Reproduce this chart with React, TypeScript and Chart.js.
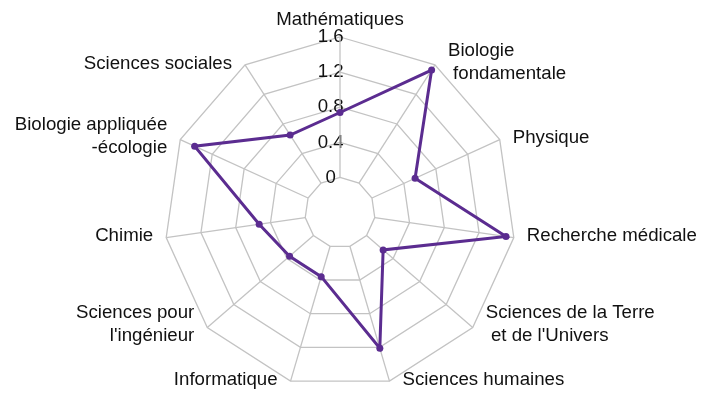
import React, { useEffect, useRef } from 'react';
import { Chart, registerables } from 'chart.js';

Chart.register(...registerables);

const categories: (string | string[])[] = [
  'Mathématiques',
  ['Biologie', ' fondamentale'],
  'Physique',
  'Recherche médicale',
  ['Sciences de la Terre', " et de l'Univers"],
  'Sciences humaines',
  'Informatique',
  ['Sciences pour', "l'ingénieur"],
  'Chimie',
  ['Biologie appliquée', '-écologie'],
  'Sciences sociales',
];

const values = [0.74, 1.53, 0.54, 1.51, 0.25, 1.21, 0.36, 0.36, 0.53, 1.42, 0.65];

const scaleMin = -0.4;
const scaleMax = 1.6;
const tickValues = [-0.4, 0, 0.4, 0.8, 1.2, 1.6];

const LINE_COLOR = '#5b2c90';
const GRID_COLOR = '#c3c3c3';
const TEXT_COLOR = '#111111';
const FONT_FAMILY = '"Liberation Sans", Arial, sans-serif';
const FONT_SIZE = 18.67;
const LINE_H = 23;

const layoutPlugin = {
  id: 'excelRadarDecor',
  beforeDatasetsDraw(chart: any) {
    const scale = chart.scales.r;
    const ctx = chart.ctx;
    const inner = scale.getDistanceFromCenterForValue(0);
    const outer = scale.getDistanceFromCenterForValue(scaleMax);
    ctx.save();
    ctx.strokeStyle = GRID_COLOR;
    ctx.lineWidth = 1.3;
    for (let i = 0; i < categories.length; i++) {
      const a = scale.getPointPosition(i, inner);
      const b = scale.getPointPosition(i, outer);
      ctx.beginPath();
      ctx.moveTo(a.x, a.y);
      ctx.lineTo(b.x, b.y);
      ctx.stroke();
    }
    ctx.restore();
  },
  afterDatasetsDraw(chart: any) {
    const scale = chart.scales.r;
    const ctx = chart.ctx;
    const n = categories.length;
    ctx.save();
    ctx.font = `${FONT_SIZE}px ${FONT_FAMILY}`;
    ctx.fillStyle = TEXT_COLOR;
    ctx.textBaseline = 'middle';
    categories.forEach((lab, i) => {
      const lines = Array.isArray(lab) ? lab : [lab];
      const p = scale.getPointPosition(i, scale.drawingArea);
      const ang = (i * 360) / n;
      let x = p.x;
      let y: number;
      let align: CanvasTextAlign;
      if (i === 0) {
        align = 'center';
        y = p.y - 17.5 - (lines.length - 1) * LINE_H;
      } else {
        align = ang < 180 ? 'left' : 'right';
        x = ang < 180 ? p.x + 13 : p.x - 13;
        y = p.y - 1.5 - ((lines.length - 1) * LINE_H) / 2 - (lines.length > 1 ? 1.5 : 0);
      }
      ctx.textAlign = align;
      lines.forEach((t, k) => ctx.fillText(t, x, y + k * LINE_H));
    });
    ctx.restore();
  },
};

export default function App() {
  const ref = useRef<HTMLCanvasElement | null>(null);

  useEffect(() => {
    if (!ref.current) return;
    const chart = new Chart(ref.current, {
      type: 'radar',
      data: {
        labels: categories as any,
        datasets: [
          {
            data: values,
            borderColor: LINE_COLOR,
            backgroundColor: LINE_COLOR,
            borderWidth: 3,
            fill: false,
            pointRadius: 3.5,
            pointBorderWidth: 0,
            pointBackgroundColor: LINE_COLOR,
            tension: 0,
          },
        ],
      },
      options: {
        responsive: false,
        animation: false,
        devicePixelRatio: 1,
        plugins: {
          legend: { display: false },
          tooltip: { enabled: false },
        },
        scales: {
          r: {
            min: scaleMin,
            max: scaleMax,
            afterBuildTicks: (scale: any) => {
              scale.ticks = tickValues.map((v) => ({ value: v }));
            },
            afterFit: (scale: any) => {
              scale.xCenter = 340;
              scale.yCenter = 212.6;
              scale.drawingArea = 175.6;
            },
            angleLines: { display: false },
            grid: {
              color: (c: any) => (c.index === 0 ? 'rgba(0,0,0,0)' : GRID_COLOR),
              lineWidth: 1.3,
            },
            pointLabels: { display: false },
            ticks: {
              display: true,
              showLabelBackdrop: false,
              color: TEXT_COLOR,
              font: { size: FONT_SIZE, family: FONT_FAMILY },
              callback: (v: any) =>
                Number(v) < -0.2 ? '' : String(Math.round(Number(v) * 10) / 10) + '\u2002\u2002',
            },
          },
        },
      },
      plugins: [layoutPlugin],
    });
    return () => chart.destroy();
  }, []);

  return (
    <div style={{ position: 'absolute', left: 0, top: 0, width: 703, height: 396, background: '#ffffff' }}>
      <canvas ref={ref} width={703} height={396} style={{ display: 'block' }} />
    </div>
  );
}
